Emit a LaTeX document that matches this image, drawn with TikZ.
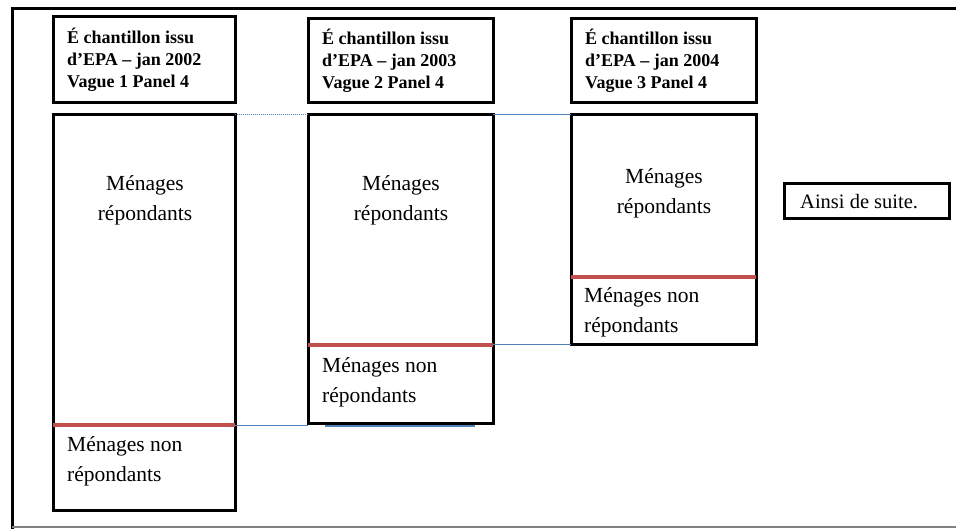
\documentclass[tikz,border=0pt]{standalone}
\usepackage{fontspec}
\setmainfont{Liberation Serif}
\begin{document}
\begin{tikzpicture}[x=1pt,y=-1pt,
  box/.style={draw=black,line width=3pt,anchor=north west,inner sep=0pt,outer sep=0pt},
  hdr/.style={font=\bfseries\fontsize{18}{22}\selectfont,align=left,anchor=west,inner sep=0pt},
  lbl/.style={font=\fontsize{21.5}{30}\selectfont,align=center,inner sep=0pt},
  nr/.style={font=\fontsize{21.5}{30}\selectfont,align=left,anchor=west,inner sep=0pt},
  redl/.style={draw=redc,line width=3.2pt},
  bluel/.style={draw=bluec,line width=1pt}]
\definecolor{redc}{HTML}{C0504D}
\definecolor{bluec}{HTML}{4F81BD}
\useasboundingbox (0,0) rectangle (956,529);
% outer frame
\coordinate (fA) at (12,529);
\coordinate (fB) at (12,9);
\coordinate (fC) at (956,9);
\coordinate (fD) at (12,527);
\coordinate (fE) at (956,527);
\draw[line width=3pt] (fA) -- (fB) -- (fC);
\draw[line width=1.5pt,gray] (fD) -- (fE);
% headers
\node[box,minimum width=182,minimum height=86] (h1) at (53,17) {};
\node[box,minimum width=185,minimum height=84] (h2) at (308,19) {};
\node[box,minimum width=185,minimum height=84] (h3) at (571,19) {};
\node[hdr] (t1) at (67,60) {\'E chantillon issu\\d'EPA -- jan 2002\\Vague 1 Panel 4};
\node[hdr] (t2) at (322,61) {\'E chantillon issu\\d'EPA -- jan 2003\\Vague 2 Panel 4};
\node[hdr] (t3) at (585,61) {\'E chantillon issu\\d'EPA -- jan 2004\\Vague 3 Panel 4};
% tall boxes
\node[box,minimum width=182,minimum height=395] (b1) at (53,115) {};
\node[box,minimum width=185,minimum height=308] (b2) at (308,115) {};
\node[box,minimum width=185,minimum height=230] (b3) at (571,115) {};
% split coordinates
\coordinate (s1w) at (53,425);
\coordinate (s1e) at (235,425);
\coordinate (s2w) at (308,345);
\coordinate (s2e) at (493,345);
\coordinate (s3w) at (571,277);
\coordinate (s3e) at (756,277);
\draw[redl] (s1w) -- (s1e);
\draw[redl] (s2w) -- (s2e);
\draw[redl] (s3w) -- (s3e);
% blue connectors
\coordinate (c2) at (308,425);
\coordinate (c3) at (571,345);
\draw[bluel,densely dotted] (b1.north east) -- (b2.north west);
\draw[bluel] (b2.north east) -- (b3.north west);
\draw[bluel] (s1e) -- (c2);
\draw[bluel] (s2e) -- (c3);
\coordinate (u1) at (325,426);
\coordinate (u2) at (475,426);
\draw[bluel,line width=1.5pt] (u1) -- (u2);
% texts
\node[lbl] (r1) at (145,200) {Ménages\\répondants};
\node[lbl] (r2) at (401,200) {Ménages\\répondants};
\node[lbl] (r3) at (664,193) {Ménages\\répondants};
\node[nr] (n1) at (67,461) {Ménages non\\répondants};
\node[nr] (n2) at (322,382) {Ménages non\\répondants};
\node[nr] (n3) at (584,312) {Ménages non\\répondants};
% ainsi de suite
\node[box,minimum width=165,minimum height=35] (a) at (784,184) {};
\node[font=\fontsize{20.5}{22}\selectfont,anchor=west,inner sep=0pt] (at) at (800,202) {Ainsi de suite.};
\end{tikzpicture}
\end{document}
